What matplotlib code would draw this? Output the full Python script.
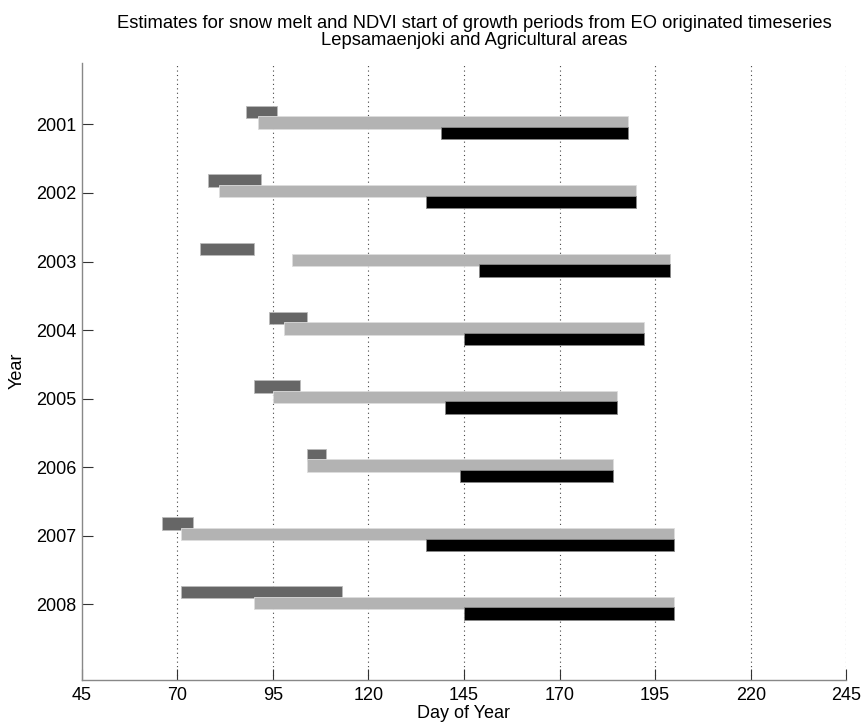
import numpy as np
import matplotlib
matplotlib.use("Agg")
import matplotlib.pyplot as plt

plt.rcParams["font.family"] = ["Liberation Sans", "DejaVu Sans"]

years = [2001, 2002, 2003, 2004, 2005, 2006, 2007, 2008]

# snow melt period (start, end day of year)
melt_start = [88, 78, 76, 94, 90, 104, 66, 71]
melt_end = [96, 92, 90, 104, 102, 109, 74, 113]

# NDVI growth period, agricultural areas
agri_start = [91, 81, 100, 98, 95, 104, 71, 90]
agri_end = [188, 190, 199, 192, 185, 184, 200, 200]

# NDVI growth period, Lepsamaenjoki
leps_start = [139, 135, 149, 145, 140, 144, 135, 145]
leps_end = [188, 190, 199, 192, 185, 184, 200, 200]

xticks = [45, 70, 95, 120, 145, 170, 195, 220, 245]

y = np.array(years, dtype=float)
melt_start = np.array(melt_start)
agri_start = np.array(agri_start)
leps_start = np.array(leps_start)

fig = plt.figure(figsize=(8.64, 7.28), dpi=100)
ax = fig.add_axes([0.0945, 0.066, 0.885, 0.848])

h = 0.18
ax.barh(y - 0.18, np.array(melt_end) - melt_start, left=melt_start, height=h,
        color="#666666", edgecolor="#bbbbbb", linewidth=0.6, zorder=3)
ax.barh(y - 0.025, np.array(agri_end) - agri_start, left=agri_start, height=h,
        color="#b3b3b3", edgecolor="#dddddd", linewidth=0.6, zorder=4)
ax.barh(y + 0.13, np.array(leps_end) - leps_start, left=leps_start, height=h,
        color="black", edgecolor="#888888", linewidth=0.6, zorder=5)

ax.set_xlim(45, 245)
ax.set_ylim(2009.1, 2000.1)
ax.set_xticks(xticks)
ax.set_yticks(years)

for x in xticks[1:]:
    ax.axvline(x, color="#444444", linestyle=(0, (1, 3)), linewidth=0.8, zorder=1)

for side in ["top", "right"]:
    ax.spines[side].set_visible(False)
for side in ["left", "bottom"]:
    ax.spines[side].set_color("#888888")
    ax.spines[side].set_linewidth(1.0)

ax.tick_params(direction="in", length=8, width=0.8, color="#333333", labelsize=13)
ax.tick_params(axis="y", pad=4)
ax.tick_params(axis="x", pad=5)

ax.set_xlabel("Day of Year", fontsize=13, labelpad=1)
ax.set_ylabel("Year", fontsize=13, labelpad=7)
ax.set_title("Estimates for snow melt and NDVI start of growth periods from EO originated timeseries\n"
             "Lepsamaenjoki and Agricultural areas", fontsize=13.2, pad=13, linespacing=1.0,
             x=0.513)

fig.savefig("out.png", dpi=100)
